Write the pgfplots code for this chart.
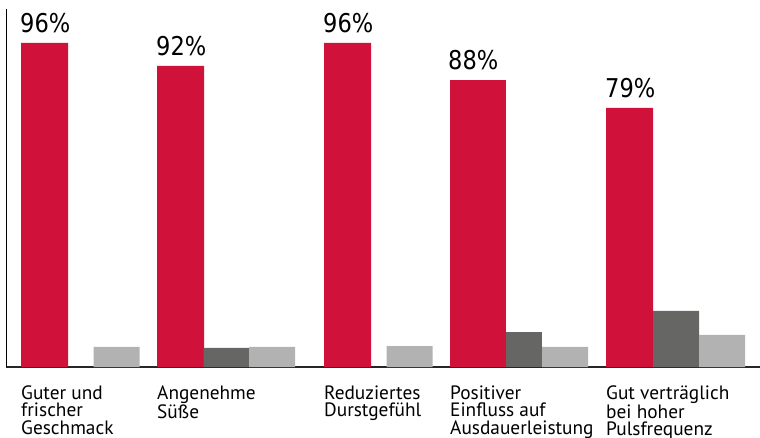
\documentclass[border=0pt]{standalone}
\usepackage{pgfplots}
\pgfplotsset{compat=1.18}
\usepackage{fontspec}
\setmainfont{PT Sans}
\newfontfamily\pctfont{DejaVu Sans}[FakeStretch=0.87]
\definecolor{barred}{RGB}{208,18,58}
\definecolor{bardark}{RGB}{102,102,100}
\definecolor{barlight}{RGB}{178,178,178}

\begin{document}
\begin{tikzpicture}
\begin{axis}[
  at={(6bp,71bp)}, anchor=south west,
  scale only axis, width=754bp, height=358bp,
  xmin=6, xmax=760, ymin=0, ymax=109.15,
  axis x line*=bottom, axis y line*=left,
  x axis line style={line width=1.5bp, color=black!85},
  y axis line style={line width=1bp, color=black},
  ytick=\empty,
  xtick={21,157,324,450,606},
  xticklabels={{Guter und\\frischer\\Geschmack},{Angenehme\\Süße},{Reduziertes\\Durstgefühl},{Positiver\\Einfluss auf\\Ausdauerleistung},{Gut verträglich\\bei hoher\\Pulsfrequenz}},
  xticklabel style={anchor=north west, align=left, inner sep=0pt, yshift=-18.5bp,
    font=\fontsize{19.4}{17.4}\selectfont},
  major tick length=0pt,
  clip=false,
]
% red bars (drawn heights), labels as printed
\addplot[ybar, bar width=47, bar shift=0pt, fill=barred, draw=none,
  point meta=explicit symbolic, nodes near coords,
  every node near coord/.append style={anchor=base west, xshift=-24.5bp, yshift=10bp,
    inner sep=0pt, font=\pctfont\fontsize{26}{26}\selectfont, text=black}]
  coordinates {(44.5,98.8) [96\%] (180.5,91.8) [92\%] (347.5,98.8) [96\%] (629.5,79.0) [79\%]};
\addplot[ybar, bar width=56, bar shift=0pt, fill=barred, draw=none,
  point meta=explicit symbolic, nodes near coords,
  every node near coord/.append style={anchor=base west, xshift=-30bp, yshift=11bp,
    inner sep=0pt, font=\pctfont\fontsize{26}{26}\selectfont, text=black}]
  coordinates {(478,87.5) [88\%]};
% dark grey bars
\addplot[ybar, bar width=46, bar shift=0pt, fill=bardark, draw=none]
  coordinates {(226.5,5.8) (676,17.1)};
\addplot[ybar, bar width=36, bar shift=0pt, fill=bardark, draw=none]
  coordinates {(524,10.7)};
% light grey bars
\addplot[ybar, bar width=46, bar shift=0pt, fill=barlight, draw=none]
  coordinates {(116.5,6.1) (272,6.1) (409.5,6.4) (565,6.1) (722,9.8)};
\end{axis}
\pgfresetboundingbox
\useasboundingbox (0,0) rectangle (760bp,438bp);
\end{tikzpicture}
\end{document}
